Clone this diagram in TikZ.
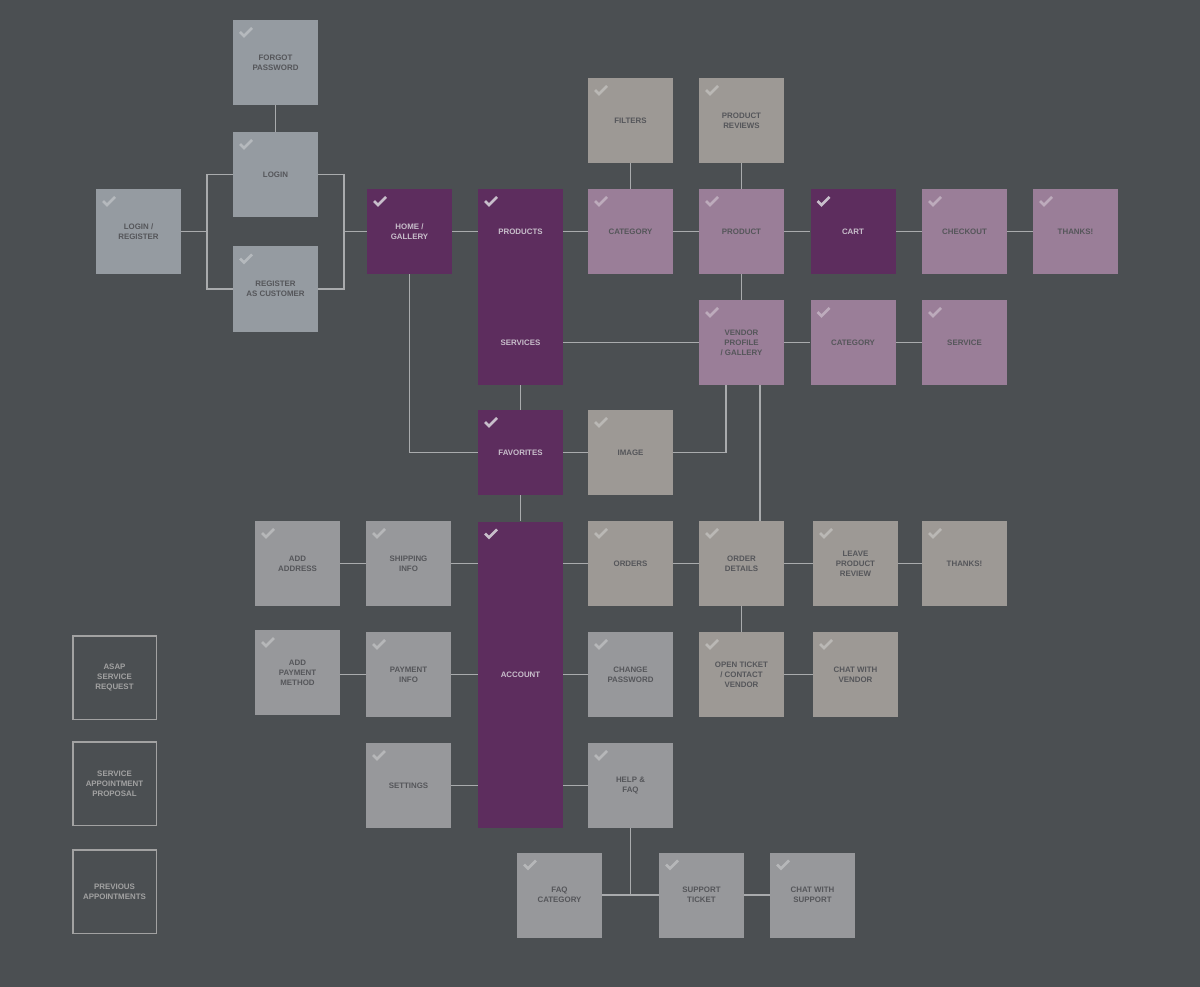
\documentclass[tikz,border=0pt]{standalone}
\usepackage{fontspec}
\setmainfont{Liberation Sans}
\usepackage{xcolor}
\usepackage{tikz}
\usetikzlibrary{backgrounds}

\definecolor{slate}{HTML}{4B4F52}
\definecolor{bluegrey}{HTML}{959BA1}
\definecolor{warmgrey}{HTML}{9D9995}
\definecolor{plaingrey}{HTML}{97989B}
\definecolor{plum}{HTML}{5D2D5E}
\definecolor{lilac}{HTML}{9A7E98}
\definecolor{wire}{HTML}{A9ABAD}
\definecolor{inkdark}{HTML}{55565A}
\definecolor{inklight}{HTML}{C8BECB}
\definecolor{rim}{HTML}{A2A2A2}

\tikzset{
  ticked/.style={path picture={
    \draw[#1, line width=2.5pt]
      ([shift={(7pt,-12pt)}]path picture bounding box.north west)
      -- ++(4pt,-4pt) -- ++(8pt,8pt);}},
  screen/.style={minimum width=85pt, minimum height=85pt, inner sep=0pt,
    align=center, font=\bfseries\fontsize{7.9}{10}\selectfont},
  bluebox/.style={screen, fill=bluegrey, text=inkdark, ticked=bluegrey!70!white},
  warmbox/.style={screen, fill=warmgrey, text=inkdark, ticked=warmgrey!70!white},
  greybox/.style={screen, fill=plaingrey, text=inkdark, ticked=plaingrey!70!white},
  plumbox/.style={screen, fill=plum, text=inklight, ticked=inklight},
  lilacbox/.style={screen, fill=lilac, text=inkdark, ticked=lilac!65!white},
  outlinebox/.style={screen, draw=rim, line width=1.5pt, text=rim,
    minimum width=83.5pt, minimum height=83.5pt},
  tag/.style={font=\bfseries\fontsize{7.9}{10}\selectfont, text=inklight},
  wiring/.style={draw=wire, line width=1.5pt}
}

\begin{document}
\begin{tikzpicture}[x=1pt,y=-1pt]
  \useasboundingbox (0,0) rectangle (1200,987);

  % login flow
  \node[bluebox] (logreg) at (138.5,231.5) {LOGIN /\\REGISTER};
  \node[bluebox] (forgot) at (275.5,62.5) {FORGOT\\PASSWORD};
  \node[bluebox] (login) at (275.5,174.5) {LOGIN};
  \node[bluebox] (register) at (275.5,289) {REGISTER\\AS CUSTOMER};
  \coordinate (jl) at (207,231.5);
  \coordinate (jr) at (344,231.5);

  % main column
  \node[plumbox] (home) at (409.5,231.5) {HOME /\\GALLERY};
  \node[plumbox, minimum height=196pt] (prodserv) at (520.5,287) {};
  \node[tag] (products) at (520.5,231.5) {PRODUCTS};
  \node[tag] (services) at (520.5,342.5) {SERVICES};
  \node[plumbox] (favorites) at (520.5,452.5) {FAVORITES};
  \node[plumbox, minimum height=306pt] (account) at (520.5,674.5) {ACCOUNT};

  % shop
  \node[warmbox] (filters) at (630.5,120.5) {FILTERS};
  \node[warmbox] (reviews) at (741.5,120.5) {PRODUCT\\REVIEWS};
  \node[lilacbox] (category) at (630.5,231.5) {CATEGORY};
  \node[lilacbox] (product) at (741.5,231.5) {PRODUCT};
  \node[plumbox] (cart) at (853,231.5) {CART};
  \node[lilacbox] (checkout) at (964.5,231.5) {CHECKOUT};
  \node[lilacbox] (thanks) at (1075.5,231.5) {THANKS!};
  \node[lilacbox] (vendor) at (741.5,342.5) {VENDOR\\PROFILE\\/ GALLERY};
  \node[lilacbox] (vcategory) at (853,342.5) {CATEGORY};
  \node[lilacbox] (service) at (964.5,342.5) {SERVICE};
  \node[warmbox] (image) at (630.5,452.5) {IMAGE};

  % orders
  \node[warmbox] (orders) at (630.5,563.5) {ORDERS};
  \node[warmbox] (details) at (741.5,563.5) {ORDER\\DETAILS};
  \node[warmbox] (leave) at (855.5,563.5) {LEAVE\\PRODUCT\\REVIEW};
  \node[warmbox] (thanksb) at (964.5,563.5) {THANKS!};
  \node[warmbox] (ticket) at (741.5,674.5) {OPEN TICKET\\/ CONTACT\\VENDOR};
  \node[warmbox] (chatv) at (855.5,674.5) {CHAT WITH\\VENDOR};

  % account
  \node[greybox] (chpass) at (630.5,674.5) {CHANGE\\PASSWORD};
  \node[greybox] (help) at (630.5,785.5) {HELP \&\\FAQ};
  \node[greybox] (addaddr) at (297.5,563.5) {ADD\\ADDRESS};
  \node[greybox] (shipping) at (408.5,563.5) {SHIPPING\\INFO};
  \node[greybox] (addpay) at (297.5,672.5) {ADD\\PAYMENT\\METHOD};
  \node[greybox] (payment) at (408.5,674.5) {PAYMENT\\INFO};
  \node[greybox] (settings) at (408.5,785.5) {SETTINGS};
  \node[greybox] (faqcat) at (559.5,895) {FAQ\\CATEGORY};
  \node[greybox] (support) at (701.5,895) {SUPPORT\\TICKET};
  \node[greybox] (chatsup) at (812.5,895) {CHAT WITH\\SUPPORT};

  % loose screens
  \node[outlinebox] (asap) at (114.5,677.5) {ASAP\\SERVICE\\REQUEST};
  \node[outlinebox] (proposal) at (114.5,783.5) {SERVICE\\APPOINTMENT\\PROPOSAL};
  \node[outlinebox] (previous) at (114.5,891.5) {PREVIOUS\\APPOINTMENTS};

  \begin{scope}[on background layer]
    \fill[slate] (0,0) rectangle (1200,987);
    \draw[wiring] (logreg) -- (jl);
    \draw[wiring] (login) -| (jl) |- (register);
    \draw[wiring] (login) -| (jr) |- (register);
    \draw[wiring] (jr) -- (home);
    \draw[wiring] (forgot) -- (login);
    \draw[wiring] (home) -- (products);
    \draw[wiring] (home) |- (favorites);
    \draw[wiring] (products) -- (category) -- (product) -- (cart) -- (checkout) -- (thanks);
    \draw[wiring] (filters) -- (category);
    \draw[wiring] (reviews) -- (product) -- (vendor);
    \draw[wiring] (services) -- (vendor) -- (vcategory) -- (service);
    \draw[wiring] (prodserv) -- (favorites) -- (account);
    \draw[wiring] (favorites) -- (image);
    \draw[wiring] (image) -| ([xshift=-15.5pt]vendor.south);
    \draw[wiring] ([xshift=18.5pt]vendor.south) -- ([xshift=18.5pt]vendor.south |- details.north);
    \draw[wiring] (addaddr) -- (shipping) -- (shipping -| account);
    \draw[wiring] (orders -| account) -- (orders) -- (details) -- (leave) -- (thanksb);
    \draw[wiring] (details) -- (ticket) -- (chatv);
    \draw[wiring] (addpay |- payment) -- (payment) -- (account) -- (chpass);
    \draw[wiring] (settings) -- (settings -| account);
    \draw[wiring] (help -| account) -- (help);
    \draw[wiring] (help) -- (help |- faqcat);
    \draw[wiring] (faqcat) -- (support) -- (chatsup);
  \end{scope}
\end{tikzpicture}
\end{document}
